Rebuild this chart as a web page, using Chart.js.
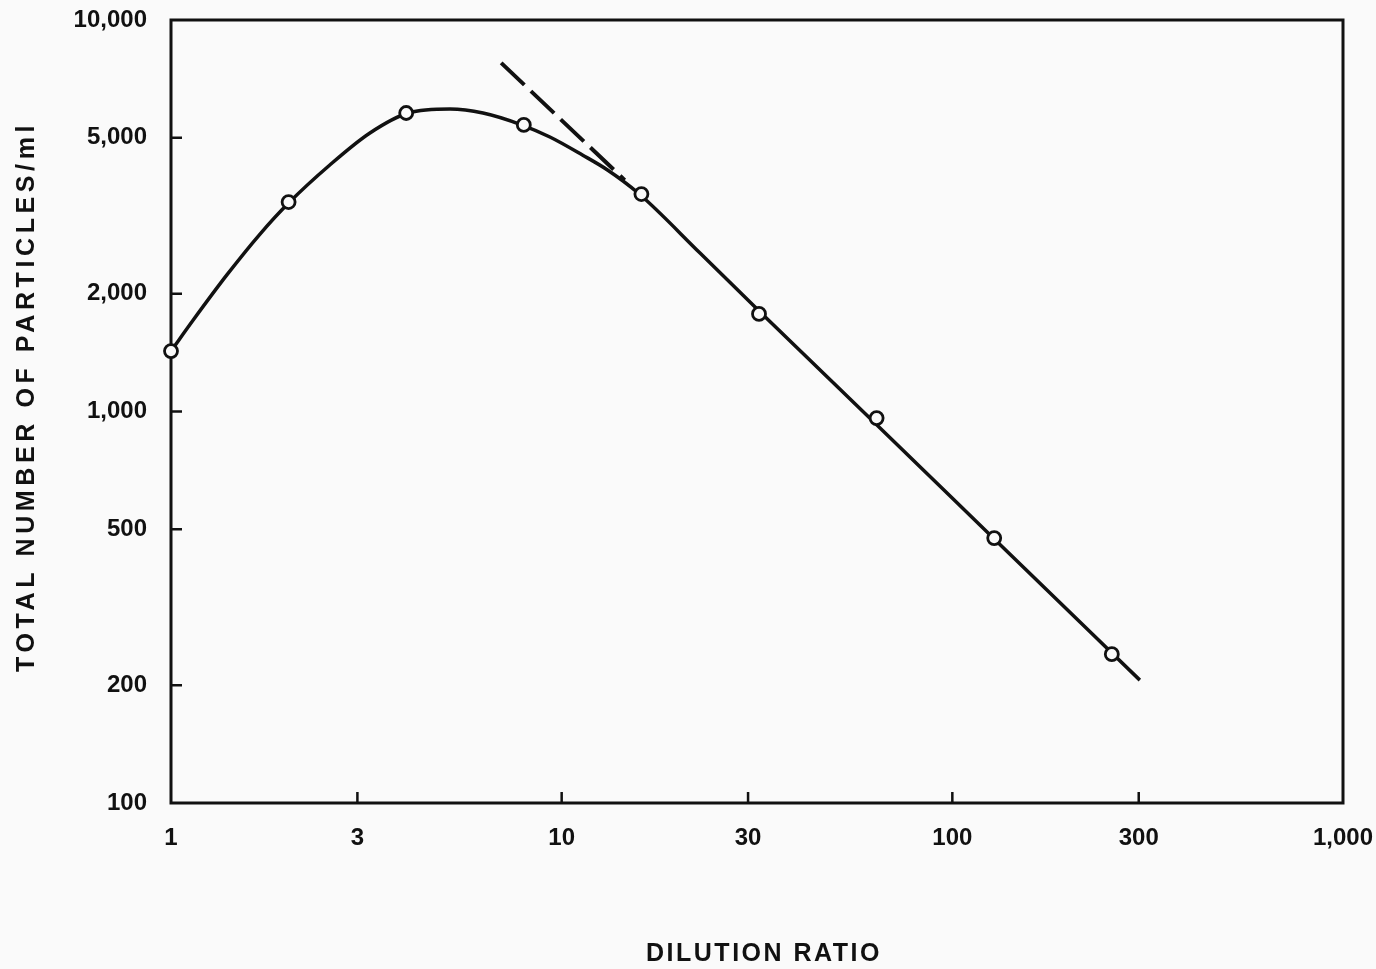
<!DOCTYPE html>
<html>
<head>
<meta charset="utf-8">
<script src="https://cdn.jsdelivr.net/npm/chart.js@4"></script>
<style>
    body { margin: 0; background: #fafafa; }
    #caixa { width: 1376px; height: 969px; }
</style>
</head>
<body>
<div id="caixa"><canvas id="graficoDiluicao"></canvas></div>
<script>
// valores
const diluicao = [1, 2, 4, 8, 16, 32, 64, 128, 256];
const particulas = [1427, 3428, 5787, 5395, 3593, 1775, 962, 475, 240];

// curva ajustada, lida ao longo do traco
const curvaX = [1, 1.14, 1.39, 1.69, 2.0, 2.55, 3.23, 4.05, 5.18, 6.29, 7.92, 9.33, 11.3, 13.1, 15.7, 22.6, 32.6, 65.3, 132, 302];
const curvaY = [1427, 1713, 2233, 2840, 3408, 4262, 5145, 5786, 5924, 5786, 5392, 5025, 4521, 4140, 3614, 2540, 1774, 908, 459, 206];

const tracejadoX = [7.0, 14.5];
const tracejadoY = [7770, 3900];

const ticksX = [1, 3, 10, 30, 100, 300, 1000];
const ticksY = [100, 200, 500, 1000, 2000, 5000, 10000];
const marcasX = [3, 10, 30, 100, 300];
const marcasY = [200, 500, 1000, 2000, 5000];

const tituloX = "DILUTION RATIO";
const tituloY = "TOTAL NUMBER OF PARTICLES/ml";

const preto = '#111';
const fonte = '"Liberation Sans", Arial, sans-serif';

function juntaPontos(xs, ys) {
    return xs.map((x, i) => ({ x: x, y: ys[i] }));
}

const moldura = {
    id: 'moldura',
    beforeDraw(chart) {
        const ctx = chart.ctx;
        ctx.save();
        ctx.fillStyle = '#fafafa';
        ctx.fillRect(0, 0, chart.width, chart.height);
        ctx.restore();
    },
    beforeDatasetsDraw(chart) {
        const { ctx, chartArea: a, scales } = chart;
        ctx.save();
        ctx.strokeStyle = preto;
        ctx.lineWidth = 3;
        ctx.strokeRect(a.left, a.top, a.right - a.left, a.bottom - a.top);
        ctx.lineWidth = 2.5;
        ctx.beginPath();
        marcasX.forEach(v => {
            const px = scales.x.getPixelForValue(v);
            ctx.moveTo(px, a.bottom);
            ctx.lineTo(px, a.bottom - 11);
        });
        marcasY.forEach(v => {
            const py = scales.y.getPixelForValue(v);
            ctx.moveTo(a.left, py);
            ctx.lineTo(a.left + 11, py);
        });
        ctx.stroke();
        ctx.restore();
    },
    afterDraw(chart) {
        const { ctx, chartArea: a } = chart;
        ctx.save();
        ctx.fillStyle = preto;
        ctx.font = 'bold 25px ' + fonte;
        ctx.textAlign = 'center';
        ctx.textBaseline = 'middle';
        ctx.letterSpacing = '2.5px';
        ctx.fillText(tituloX, (a.left + a.right) / 2 + 7, chart.height - 15);
        ctx.translate(27, (a.top + a.bottom) / 2 - 15);
        ctx.rotate(-Math.PI / 2);
        ctx.letterSpacing = '4.6px';
        ctx.fillText(tituloY, 0, 0);
        ctx.restore();
    }
};

const grafico = new Chart(document.getElementById('graficoDiluicao'), {
    type: 'scatter',
    data: {
        datasets: [{
            label: 'pontos',
            data: juntaPontos(diluicao, particulas),
            showLine: false,
            pointRadius: 6.5,
            pointBorderWidth: 2.8,
            pointBackgroundColor: '#fafafa',
            pointBorderColor: preto,
            clip: false,
            order: 0
        }, {
            label: 'curva',
            data: juntaPontos(curvaX, curvaY),
            showLine: true,
            cubicInterpolationMode: 'monotone',
            borderColor: preto,
            borderWidth: 3.5,
            pointRadius: 0,
            clip: false,
            order: 1
        }, {
            label: 'tracejado',
            data: juntaPontos(tracejadoX, tracejadoY),
            showLine: true,
            borderColor: preto,
            borderWidth: 4,
            borderDash: [32, 9],
            pointRadius: 0,
            order: 2
        }]
    },
    options: {
        responsive: true,
        maintainAspectRatio: false,
        animation: false,
        layout: { padding: { top: 20, right: 33, left: 0, bottom: 0 } },
        plugins: {
            legend: { display: false },
            tooltip: { enabled: false }
        },
        scales: {
            x: {
                type: 'logarithmic',
                min: 1,
                max: 1000,
                grid: { display: false, drawTicks: false },
                border: { display: false },
                afterBuildTicks: s => { s.ticks = ticksX.map(v => ({ value: v })); },
                afterFit: s => {
                    s.height = 166;
                    s.paddingLeft = 0;
                    s.paddingRight = 0;
                },
                ticks: {
                    padding: 21,
                    maxRotation: 0,
                    color: preto,
                    font: { family: fonte, size: 24, weight: 'bold' },
                    callback: v => v.toLocaleString('en-US')
                }
            },
            y: {
                type: 'logarithmic',
                min: 100,
                max: 10000,
                grid: { display: false, drawTicks: false },
                border: { display: false },
                afterBuildTicks: s => { s.ticks = ticksY.map(v => ({ value: v })); },
                afterFit: s => {
                    s.width = 171;
                    s.paddingTop = 0;
                    s.paddingBottom = 0;
                },
                ticks: {
                    padding: 24,
                    color: preto,
                    font: { family: fonte, size: 24, weight: 'bold' },
                    callback: v => v.toLocaleString('en-US')
                }
            }
        }
    },
    plugins: [moldura]
});
</script>
</body>
</html>
